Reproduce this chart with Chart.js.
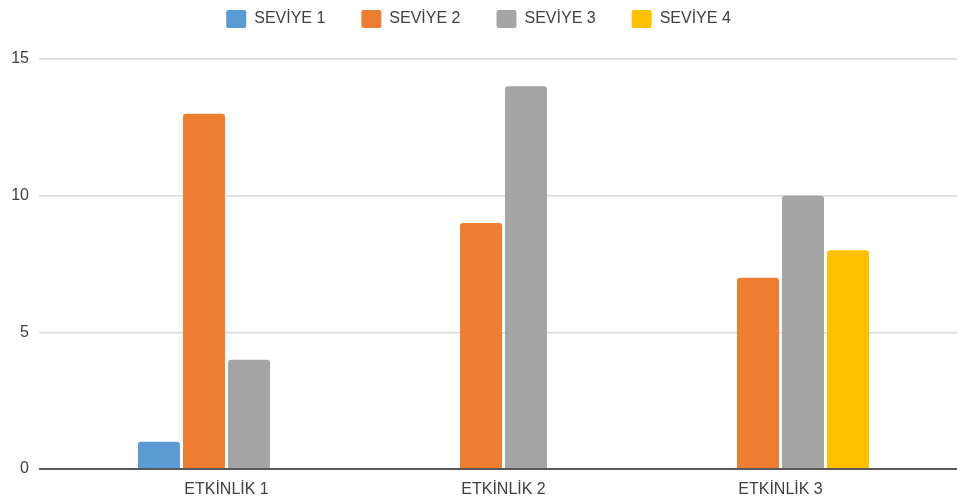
<!DOCTYPE html>
<html>
<head>
<meta charset="utf-8">
<script src="https://cdn.jsdelivr.net/npm/chart.js@4.4.0/dist/chart.umd.min.js"></script>
<style>
  html, body { margin: 0; padding: 0; background: #fff; }
</style>
</head>
<body>
<canvas id="chart" width="957" height="499"></canvas>
<script>
// Veriler
const categories = ['ETKİNLİK 1', 'ETKİNLİK 2', 'ETKİNLİK 3'];
const seriesNames = ['SEVİYE 1', 'SEVİYE 2', 'SEVİYE 3', 'SEVİYE 4'];
const seviye1 = [1, 0, 0];
const seviye2 = [13, 9, 7];
const seviye3 = [4, 14, 10];
const seviye4 = [0, 0, 8];
const yMin = 0;
const yMax = 15;
const yStep = 5;

const colors = ['#5B9BD5', '#ED7D31', '#A5A5A5', '#FFC000'];
const textColor = '#404040';
const gridColor = '#D9D9D9';
const axisColor = '#595959';
const font = { family: "'Liberation Sans', Arial, sans-serif", size: 16 };

const legendPadding = 36;

// Legend yüksekliğini sabitle ve yukarı kaydır
const legendHeight = {
    id: 'legendHeight',
    beforeLayout(chart) {
        const legend = chart.legend;
        if (legend && !legend._patched) {
            const fit = legend.fit;
            legend.fit = function () {
                fit.call(this);
                this.height = 59;
            };
            legend._patched = true;
        }
    },
    afterLayout(chart) {
        if (chart.legend) {
            chart.legend.top = 10 - legendPadding;
        }
    }
};

const lineColor = (ctx) => ctx.tick && ctx.tick.value === 0 ? axisColor : gridColor;
const lineWidth = (ctx) => ctx.tick && ctx.tick.value === 0 ? 2 : 1.5;

const allSeries = [seviye1, seviye2, seviye3, seviye4];

new Chart(document.getElementById('chart'), {
    type: 'bar',
    data: {
        labels: categories,
        datasets: allSeries.map((values, i) => ({
            label: seriesNames[i],
            data: values,
            backgroundColor: colors[i],
            borderRadius: 3,
            categoryPercentage: 0.65,
            barPercentage: 0.933
        }))
    },
    options: {
        responsive: false,
        animation: false,
        layout: { padding: 0 },
        plugins: {
            legend: {
                position: 'top',
                labels: {
                    color: textColor,
                    font: font,
                    boxWidth: 20,
                    boxHeight: 18,
                    padding: legendPadding,
                    useBorderRadius: true,
                    borderRadius: 2
                }
            },
            tooltip: { enabled: false }
        },
        scales: {
            x: {
                grid: { display: false, drawTicks: false },
                border: { display: false },
                ticks: { color: textColor, font: font, padding: 11 },
                afterFit(scale) { scale.height = 30; }
            },
            y: {
                position: 'left',
                min: yMin,
                max: yMax,
                ticks: { stepSize: yStep, color: textColor, font: font, padding: 10 },
                grid: {
                    color: lineColor,
                    tickColor: lineColor,
                    lineWidth: lineWidth,
                    tickWidth: lineWidth,
                    tickLength: 49
                },
                border: { display: false },
                afterFit(scale) { scale.width = 88; }
            },
            y2: {
                position: 'right',
                min: yMin,
                max: yMax,
                ticks: { stepSize: yStep, display: false },
                grid: {
                    drawOnChartArea: false,
                    color: lineColor,
                    tickColor: lineColor,
                    lineWidth: lineWidth,
                    tickWidth: lineWidth,
                    tickLength: 38
                },
                border: { display: false },
                afterFit(scale) { scale.width = 38; }
            }
        }
    },
    plugins: [legendHeight]
});
</script>
</body>
</html>
